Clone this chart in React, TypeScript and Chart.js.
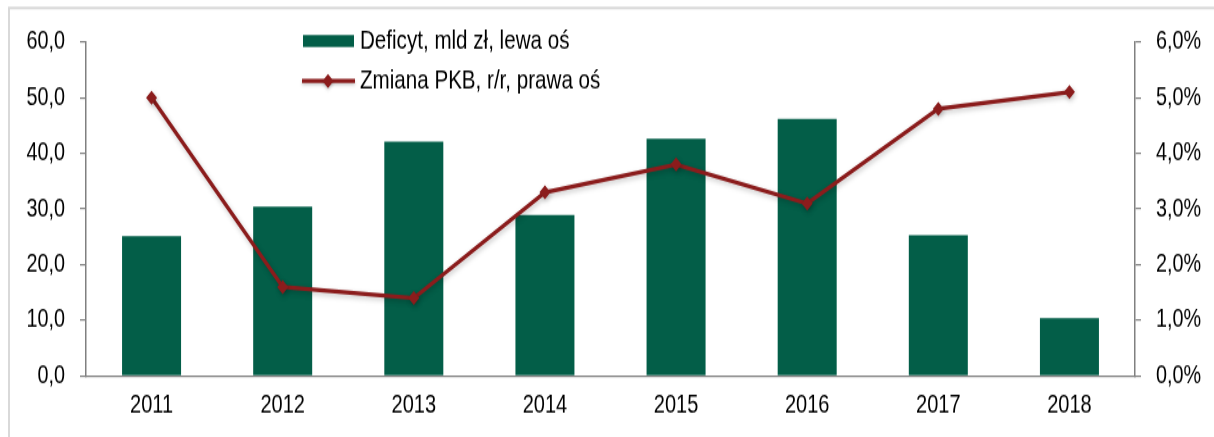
import React, { useEffect, useRef } from "react";
import { Chart, registerables } from "chart.js";

Chart.register(...registerables);

const categories = ["2011", "2012", "2013", "2014", "2015", "2016", "2017", "2018"];
const deficit = [25.1, 30.4, 42.1, 28.9, 42.6, 46.2, 25.3, 10.4];
const gdpChange = [5.0, 1.6, 1.4, 3.3, 3.8, 3.1, 4.8, 5.1];
const seriesLabels = ["Deficyt, mld zł, lewa oś", "Zmiana PKB, r/r, prawa oś"];

const FONT = "'Liberation Sans', Arial, sans-serif";
const GREEN = "#035E48";
const RED = "#8B1C1C";

// The reference image is stretched vertically; render at a shorter height and scale the canvas.
const W = 1214;
const H_SCREEN = 437;
const H = 341;
const SY = H_SCREEN / H;

const fmt = (v: number, d: number) => v.toFixed(d).replace(".", ",");

const framePlugin = {
  id: "frame",
  beforeDraw(chart: any) {
    const ctx = chart.ctx;
    ctx.save();
    ctx.fillStyle = "#ffffff";
    ctx.fillRect(0, 0, chart.width, chart.height);
    ctx.strokeStyle = "#d9d9d9";
    ctx.lineWidth = 2;
    ctx.beginPath();
    ctx.moveTo(9, chart.height + 5);
    ctx.lineTo(9, 8 / SY);
    ctx.lineTo(chart.width + 5, 8 / SY);
    ctx.stroke();
    ctx.restore();
  },
};

const shadowPlugin = {
  id: "lineShadow",
  beforeDatasetDraw(chart: any, args: any) {
    if (args.index === 0) {
      const ctx = chart.ctx;
      ctx.save();
      ctx.shadowColor = "rgba(0,0,0,0.22)";
      ctx.shadowBlur = 4;
      ctx.shadowOffsetX = 1;
      ctx.shadowOffsetY = 2;
    }
  },
  afterDatasetDraw(chart: any, args: any) {
    if (args.index === 0) chart.ctx.restore();
  },
};

const legendPlugin = {
  id: "customLegend",
  afterDraw(chart: any) {
    const ctx = chart.ctx;
    const y1 = 41 / SY;
    const y2 = 81 / SY;
    ctx.save();
    ctx.font = `20.6px ${FONT}`;
    ctx.textBaseline = "middle";
    ctx.textAlign = "left";
    ctx.fillStyle = GREEN;
    ctx.fillRect(303, 35 / SY, 51, 12 / SY);
    ctx.fillStyle = "#000";
    ctx.fillText(seriesLabels[0], 360, y1);
    ctx.shadowColor = "rgba(0,0,0,0.22)";
    ctx.shadowBlur = 3;
    ctx.shadowOffsetY = 1.5;
    ctx.strokeStyle = RED;
    ctx.lineWidth = 3.2;
    ctx.beginPath();
    ctx.moveTo(302, y2);
    ctx.lineTo(355, y2);
    ctx.stroke();
    ctx.fillStyle = RED;
    ctx.beginPath();
    ctx.moveTo(328, y2 - 5.5);
    ctx.lineTo(333.5, y2);
    ctx.lineTo(328, y2 + 5.5);
    ctx.lineTo(322.5, y2);
    ctx.closePath();
    ctx.fill();
    ctx.shadowColor = "transparent";
    ctx.fillStyle = "#000";
    ctx.fillText(seriesLabels[1], 360, y2);
    ctx.restore();
  },
};

export default function App() {
  const ref = useRef<HTMLCanvasElement | null>(null);
  useEffect(() => {
    if (!ref.current) return;
    const chart = new Chart(ref.current, {
      data: {
        labels: categories,
        datasets: [
          {
            type: "line",
            label: seriesLabels[1],
            data: gdpChange,
            yAxisID: "y1",
            borderColor: RED,
            backgroundColor: RED,
            borderWidth: 3.3,
            pointStyle: "rectRot",
            pointRadius: 5.5,
            pointBorderWidth: 0,
            pointBackgroundColor: RED,
            tension: 0,
            order: 0,
          },
          {
            type: "bar",
            label: seriesLabels[0],
            data: deficit,
            yAxisID: "y",
            backgroundColor: GREEN,
            borderWidth: 0,
            categoryPercentage: 1,
            barPercentage: 0.45,
            order: 1,
          },
        ],
      } as any,
      options: {
        animation: false,
        responsive: false,
        maintainAspectRatio: false,
        devicePixelRatio: 1,
        layout: { padding: { top: 42 / SY, left: 0, right: 0, bottom: 0 } },
        plugins: { legend: { display: false }, tooltip: { enabled: false } },
        scales: {
          x: {
            grid: { display: false, drawTicks: false },
            border: { display: true, color: "#808080", width: 1.2 },
            ticks: { color: "#000", font: { family: FONT, size: 20 }, padding: 11 },
            afterFit(scale: any) {
              scale.height = H - 376 / SY;
            },
          },
          y: {
            position: "left",
            min: 0,
            max: 60,
            ticks: {
              stepSize: 10,
              color: "#000",
              font: { family: FONT, size: 19.8 },
              padding: 15,
              callback: (v: any) => fmt(Number(v), 1),
            },
            grid: { drawOnChartArea: false, drawTicks: true, tickLength: 6, color: "#808080", lineWidth: 1.2 },
            border: { display: true, color: "#808080", width: 1.5 },
            afterFit(scale: any) {
              scale.width = 86;
            },
          },
          y1: {
            position: "right",
            min: 0,
            max: 6,
            ticks: {
              stepSize: 1,
              color: "#000",
              font: { family: FONT, size: 19.8 },
              padding: 15,
              callback: (v: any) => fmt(Number(v), 1) + "%",
            },
            grid: { drawOnChartArea: false, drawTicks: true, tickLength: 6, color: "#808080", lineWidth: 1.2 },
            border: { display: true, color: "#808080", width: 1.5 },
            afterFit(scale: any) {
              scale.width = W - 1135;
            },
          },
        },
      } as any,
      plugins: [framePlugin, shadowPlugin, legendPlugin],
    });
    return () => chart.destroy();
  }, []);
  return (
    <div style={{ position: "absolute", left: 0, top: 0, width: W, height: H_SCREEN, overflow: "hidden" }}>
      <canvas
        ref={ref}
        width={W}
        height={H}
        style={{
          display: "block",
          width: W,
          height: H,
          transform: `scaleY(${SY})`,
          transformOrigin: "0 0",
        }}
      />
    </div>
  );
}
